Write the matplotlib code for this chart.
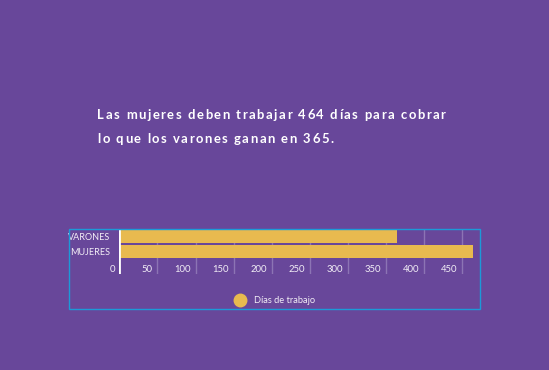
import matplotlib
matplotlib.use("Agg")
import matplotlib.pyplot as plt
from matplotlib.font_manager import FontProperties
from matplotlib.lines import Line2D
from matplotlib.patches import Rectangle
import matplotlib.transforms as mtransforms

# ---- data ----
categories = ["VARONES", "MUJERES"]
dias = [365, 464]
series_name = "Días de trabajo"
xticks = [0, 50, 100, 150, 200, 250, 300, 350, 400, 450]
title_lines = ["Las mujeres deben trabajar 464 días para cobrar",
               "lo que los varones ganan en 365."]

# ---- style ----
BG = "#68479a"
BAR = "#e8ba4f"
GRID = "#8c74b4"
TXT = "#f2eef6"
BORDER = "#1c9ad8"
W, H = 549, 370

fig = plt.figure(figsize=(W / 100, H / 100), dpi=100)
fig.patch.set_facecolor(BG)

def fx(px):
    return px / W

def fy(py):
    return 1 - py / H

# plot area in pixels
left, right, top, bottom = 119.3, 476.0, 229, 274
ax = fig.add_axes([fx(left), fy(bottom), fx(right - left), (bottom - top) / H])
ax.set_facecolor(BG)
for s in ax.spines.values():
    s.set_visible(False)

ypos = list(range(len(categories)))
ax.barh(ypos, dias, height=0.87, color=BAR, zorder=3)
ax.set_xlim(0, 468)
ax.set_ylim(2.5, -0.5)

# gridlines
for t in xticks:
    if t == 0:
        ax.axvline(t, color="white", lw=2, zorder=4)
    else:
        ax.axvline(t, color=GRID, lw=1, zorder=1)

ax.set_xticks([])
ax.set_yticks(ypos)
ax.set_yticklabels(categories, fontsize=6.5, color=TXT, family="Lato")
ax.tick_params(axis="y", length=0, pad=6.5)

# x tick labels inside, right-aligned next to gridline
tr = mtransforms.offset_copy(ax.get_xaxis_transform(), fig=fig, x=-4.5, y=0, units="dots")
for t in xticks:
    ax.text(t, (bottom - 269) / (bottom - top), str(t), transform=tr, ha="right",
            va="center", fontsize=6.8, color=TXT, family="Lato")

# legend
handle = Line2D([], [], marker="o", ls="", color=BAR, markersize=9)
leg = fig.legend([handle], [series_name], loc="center", bbox_to_anchor=(fx(273), fy(300.7)),
                 frameon=False, handletextpad=0.5, borderaxespad=0,
                 prop={"family": "Lato", "size": 6.7})
for t in leg.get_texts():
    t.set_color(TXT)

# border rectangle
fig.patches.append(Rectangle((fx(69), fy(308.5)), fx(480 - 69), (308.5 - 229) / H,
                             transform=fig.transFigure, fill=False, edgecolor=BORDER, lw=1))

# title with letter spacing
renderer = fig.canvas.get_renderer()
fp = FontProperties(family="Lato", weight="bold", size=9.4)

def width(s):
    w, h, d = renderer.get_text_width_height_descent(s + "x", fp, ismath=False)
    w0, _, _ = renderer.get_text_width_height_descent("x", fp, ismath=False)
    return w - w0

x0, x1 = 97.5, 445.5
line1 = title_lines[0]
nat = width(line1[:-1]) + renderer.get_text_width_height_descent(line1[-1], fp, ismath=False)[0]
spacing = (x1 - x0 - nat) / (len(line1) - 1)
baselines = [119.5, 143.5]
for line, by in zip(title_lines, baselines):
    for i, ch in enumerate(line):
        if ch == " ":
            continue
        xp = x0 + width(line[:i]) + i * spacing
        fig.text(fx(xp), fy(by), ch, fontproperties=fp, color="white", ha="left", va="baseline")

fig.savefig("out.png", dpi=100, facecolor=BG)
